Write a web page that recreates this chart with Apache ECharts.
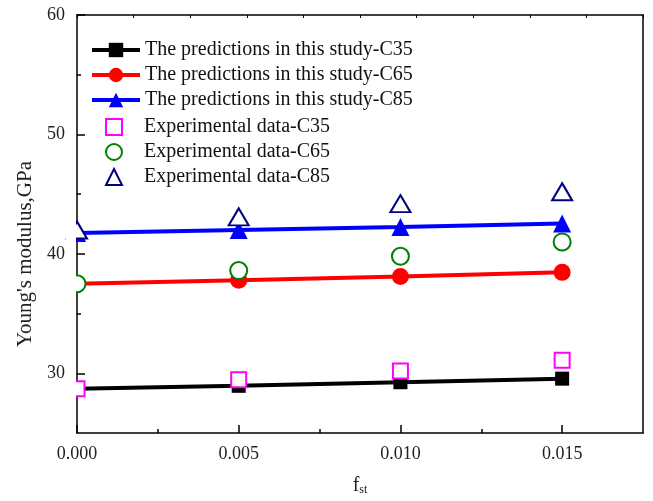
<!DOCTYPE html>
<html>
<head>
<meta charset="utf-8">
<script src="https://cdn.jsdelivr.net/npm/echarts@6/dist/echarts.min.js"></script>
<style>
html, body { margin: 0; padding: 0; background: #fff; }
#chart1 { width: 653px; height: 501px; }
</style>
</head>
<body>
<div id="chart1"></div>
<script>
// fiber volume fraction (x) and Young's modulus values (GPa)
var fst = [0, 0.005, 0.010, 0.015];
var predC35 = [28.7, 28.95, 29.25, 29.55];
var predC65 = [37.5, 37.8, 38.1, 38.45];
var predC85 = [41.75, 42.0, 42.25, 42.55];
var expC35 = [28.7, 29.45, 30.2, 31.1];
var expC65 = [37.5, 38.6, 39.8, 41.0];
var expC85 = [42.0, 43.1, 44.2, 45.2];

var xTicks = [0, 0.005, 0.010, 0.015];
var xMinorTicks = [0.0025, 0.0075, 0.0125];
var yTicks = [30, 40, 50, 60];
var yMinorTicks = [35, 45, 55];

var font = 'Liberation Serif';

function pairs(ys) {
    return fst.map(function (x, i) { return [x, ys[i]]; });
}

var myChart = echarts.init(document.getElementById('chart1'));

var axisLine = { show: true, onZero: false, lineStyle: { color: '#000', width: 1.5 } };

option = {
    animation: false,
    backgroundColor: '#fff',
    grid: { left: 77, right: 10, top: 15, bottom: 66 },
    legend: [{
        orient: 'vertical',
        left: 85,
        top: 35,
        itemWidth: 48,
        itemHeight: 18,
        itemGap: 5,
        lineStyle: { width: 4 },
        textStyle: { fontFamily: font, fontSize: 20, color: '#111' },
        data: ['The predictions in this study-C35', 'The predictions in this study-C65', 'The predictions in this study-C85']
    }, {
        orient: 'vertical',
        left: 100,
        top: 112,
        itemWidth: 16,
        itemHeight: 16,
        itemGap: 5,
        textStyle: { fontFamily: font, fontSize: 20, color: '#111', padding: [0, 0, 0, 17] },
        data: ['Experimental data-C35', 'Experimental data-C65', 'Experimental data-C85']
    }],
    xAxis: [{
        type: 'value',
        position: 'bottom',
        min: 0,
        max: 0.0175,
        axisLine: axisLine,
        axisTick: { inside: true, length: 8, customValues: xTicks, lineStyle: { color: '#000', width: 1.5 } },
        axisLabel: {
            customValues: xTicks,
            margin: 12,
            fontFamily: font,
            fontSize: 18,
            color: '#222',
            formatter: function (v) { return v.toFixed(3); }
        },
        splitLine: { show: false },
        name: '{f|f}{s|st}',
        nameLocation: 'middle',
        nameGap: 43,
        nameTextStyle: {
            rich: {
                f: { fontFamily: font, fontSize: 20, color: '#222', lineHeight: 20 },
                s: { fontFamily: font, fontSize: 12, color: '#222', lineHeight: 12, padding: [16, 0, 0, 0], verticalAlign: 'bottom' }
            }
        }
    }, {
        type: 'value',
        position: 'bottom',
        min: 0,
        max: 0.0175,
        axisLine: { show: false },
        axisTick: { inside: true, length: 4, customValues: xMinorTicks, lineStyle: { color: '#000', width: 1.5 } },
        axisLabel: { show: false },
        splitLine: { show: false }
    }, {
        type: 'value',
        position: 'top',
        min: 0,
        max: 0.0175,
        interval: 0.00175,
        axisLine: axisLine,
        axisTick: { inside: true, length: 3, lineStyle: { color: '#000', width: 1 } },
        axisLabel: { show: false },
        splitLine: { show: false }
    }],
    yAxis: [{
        type: 'value',
        position: 'left',
        min: 25,
        max: 60,
        axisLine: axisLine,
        axisTick: { inside: true, length: 8, customValues: yTicks, lineStyle: { color: '#000', width: 1.5 } },
        axisLabel: { customValues: yTicks, margin: 12, fontFamily: font, fontSize: 18, color: '#222' },
        splitLine: { show: false },
        name: "Young's modulus,GPa",
        nameLocation: 'middle',
        nameGap: 39,
        nameRotate: 90,
        nameTextStyle: { fontFamily: font, fontSize: 21, color: '#222', padding: [0, 60, 0, 0] }
    }, {
        type: 'value',
        position: 'left',
        min: 25,
        max: 60,
        axisLine: { show: false },
        axisTick: { inside: true, length: 4, customValues: yMinorTicks, lineStyle: { color: '#000', width: 1.5 } },
        axisLabel: { show: false },
        splitLine: { show: false }
    }, {
        type: 'value',
        position: 'right',
        min: 25,
        max: 60,
        axisLine: axisLine,
        axisTick: { show: false },
        axisLabel: { show: false },
        splitLine: { show: false }
    }],
    graphic: [{
        // hide the part of the markers at f=0 that falls left of the frame
        type: 'rect',
        left: 66,
        top: 200,
        shape: { width: 10, height: 230 },
        style: { fill: '#ffffff' },
        silent: true,
        zlevel: 5,
        z: 100
    }],
    series: [{
        name: 'The predictions in this study-C35',
        type: 'line',
        symbol: 'rect',
        symbolSize: 14,
        color: '#000',
        lineStyle: { width: 4, color: '#000' },
        data: pairs(predC35)
    }, {
        name: 'The predictions in this study-C65',
        type: 'line',
        symbol: 'circle',
        symbolSize: 17,
        color: '#ff0000',
        lineStyle: { width: 4, color: '#ff0000' },
        data: pairs(predC65)
    }, {
        name: 'The predictions in this study-C85',
        type: 'line',
        symbol: 'triangle',
        symbolSize: 18,
        color: '#0000ff',
        lineStyle: { width: 4, color: '#0000ff' },
        data: pairs(predC85)
    }, {
        name: 'Experimental data-C35',
        type: 'scatter',
        symbol: 'emptyRect',
        symbolSize: 15,
        z: 4,
        itemStyle: { color: '#ff00ff', borderColor: '#ff00ff', borderWidth: 1.5, opacity: 1 },
        data: pairs(expC35)
    }, {
        name: 'Experimental data-C65',
        type: 'scatter',
        symbol: 'emptyCircle',
        symbolSize: 17,
        z: 4,
        itemStyle: { color: '#008000', borderColor: '#008000', borderWidth: 1.5, opacity: 1 },
        data: pairs(expC65)
    }, {
        name: 'Experimental data-C85',
        type: 'scatter',
        symbol: 'emptyTriangle',
        symbolSize: [20, 17],
        z: 4,
        itemStyle: { color: '#000080', borderColor: '#000080', borderWidth: 1.5, opacity: 1 },
        data: pairs(expC85)
    }]
};
myChart.setOption(option);
window.onresize = myChart.resize;
</script>
</body>
</html>
